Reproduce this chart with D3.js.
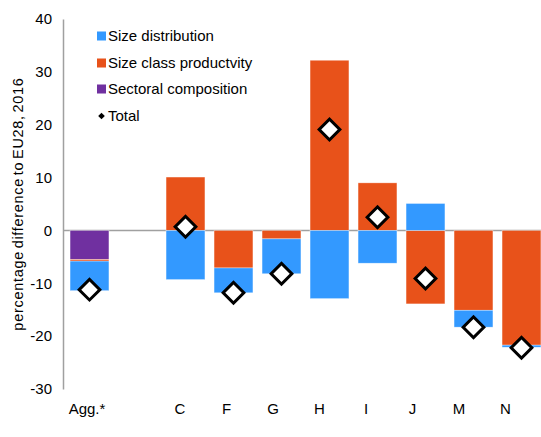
<!DOCTYPE html>
<html lang="en">
<head>
    <meta charset="UTF-8">
    <title>Decomposition</title>
    <script src="https://cdn.jsdelivr.net/npm/d3@7"></script>
    <style>
        body { margin: 0; background: #fff; }
        text { font-family: "Liberation Sans", Arial, sans-serif; fill: #000; }
    </style>
</head>
<body>
<script>
    // categories, "gap" is the empty slot between Agg.* and C
    const categories = ['Agg.*', 'gap', 'C', 'F', 'G', 'H', 'I', 'J', 'M', 'N']
    const sizeDistribution = [-5.6, 0, -9.3, -4.7, -6.6, -12.9, -6.2, 5.1, -3.2, -0.4]
    const sizeClassProductivity = [-0.3, 0, 10.1, -7.1, -1.6, 32.2, 9.0, -13.9, -15.1, -21.7]
    const sectoralComposition = [-5.5, 0, 0, 0, 0, 0, 0, 0, 0, 0]
    const total = [-11.2, null, 0.7, -11.8, -8.2, 19.1, 2.5, -9.1, -18.3, -22.2]
    const yTicks = [-30, -20, -10, 0, 10, 20, 30, 40]

    const keys = ['sect', 'prod', 'dist']
    const names = {dist: 'Size distribution', prod: 'Size class productvity', sect: 'Sectoral composition'}
    const colors = {dist: '#3399ff', prod: '#e8521a', sect: '#7030a0'}

    const [width, height] = [541, 437]
    const svg = d3.select('body').append('svg')
        .attr('width', width)
        .attr('height', height)

    const rows = categories.map((c, i) => ({
        cat: c,
        dist: sizeDistribution[i],
        prod: sizeClassProductivity[i],
        sect: sectoralComposition[i],
        total: total[i]
    }))

    const y = d3.scaleLinear().domain([-30, 40]).range([389, 19])
    const x = d3.scaleBand().domain(categories).range([65.5, 545.5]).paddingInner(0.19).paddingOuter(0.095)
    // labels in the original sit on a slightly tighter grid than the bars
    const xLabel = d3.scaleBand().domain(categories).range([63.75, 528.75])

    const series = d3.stack().keys(keys).offset(d3.stackOffsetDiverging)(rows)

    // zero line
    svg.append('line')
        .attr('x1', 63).attr('x2', width)
        .attr('y1', y(0)).attr('y2', y(0))
        .attr('stroke', '#a0a0a0').attr('stroke-width', 1.5)

    svg.append('g')
        .selectAll('g')
        .data(series)
        .enter()
        .append('g')
        .attr('fill', d => colors[d.key])
        .selectAll('rect')
        .data(d => d.filter(p => p.data.cat !== 'gap'))
        .enter()
        .append('rect')
        .attr('x', d => x(d.data.cat))
        .attr('width', x.bandwidth())
        .attr('y', d => y(Math.max(d[0], d[1])))
        .attr('height', d => Math.abs(y(d[0]) - y(d[1])))
        .attr('stroke', '#fff').attr('stroke-width', 0.6).attr('stroke-opacity', 0.6)

    // y axis
    const yAxis = svg.append('g')
        .attr('transform', 'translate(63,0)')
        .call(d3.axisLeft(y).tickValues(yTicks).tickSize(0).tickPadding(11).tickFormat(d => String(d)))
    yAxis.select('.domain').attr('stroke', '#a0a0a0').attr('stroke-width', 1.5)
    yAxis.selectAll('text').attr('font-size', 15).attr('font-family', '"Liberation Sans", Arial, sans-serif').attr('fill', '#000')

    // x axis labels
    const xAxis = svg.append('g')
        .attr('transform', 'translate(0,389)')
        .call(d3.axisBottom(xLabel).tickSize(0).tickPadding(14).tickFormat(d => d === 'gap' ? '' : d))
    xAxis.select('.domain').remove()
    xAxis.selectAll('text').attr('font-size', 15).attr('font-family', '"Liberation Sans", Arial, sans-serif').attr('fill', '#000')

    // total markers
    const diamond = d3.symbol().type(d3.symbolSquare).size(215)
    svg.append('g')
        .selectAll('path')
        .data(rows.filter(d => d.total !== null))
        .enter()
        .append('path')
        .attr('d', diamond)
        .attr('transform', d => `translate(${x(d.cat) + x.bandwidth() / 2},${y(d.total)}) rotate(45)`)
        .attr('fill', '#fff')
        .attr('stroke', '#000')
        .attr('stroke-width', 3)

    // y title
    svg.append('text')
        .attr('transform', 'translate(23,204) rotate(-90)')
        .attr('text-anchor', 'middle')
        .attr('font-size', 14.5)
        .attr('letter-spacing', 0.7)
        .attr('word-spacing', -2)
        .text('percentage difference to EU28, 2016')

    // legend
    const legendRows = [36, 63, 89, 116]
    const legend = svg.append('g')
    const legendKeys = ['dist', 'prod', 'sect']
    legendKeys.forEach((k, i) => {
        legend.append('rect')
            .attr('x', 97).attr('y', legendRows[i] - 4.5)
            .attr('width', 9).attr('height', 9)
            .attr('fill', colors[k])
        legend.append('text')
            .attr('x', 108).attr('y', legendRows[i])
            .attr('dy', '0.36em')
            .attr('font-size', 15)
            .text(names[k])
    })
    legend.append('path')
        .attr('d', d3.symbol().type(d3.symbolSquare).size(22))
        .attr('transform', `translate(101.5,${legendRows[3]}) rotate(45)`)
        .attr('fill', '#000')
    legend.append('text')
        .attr('x', 108).attr('y', legendRows[3])
        .attr('dy', '0.36em')
        .attr('font-size', 15)
        .text('Total')
</script>
</body>
</html>
